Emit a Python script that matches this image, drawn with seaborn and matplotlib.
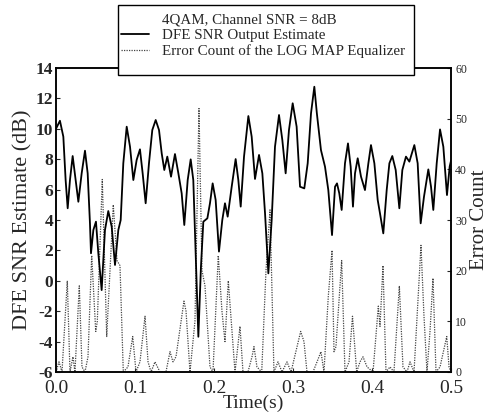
import numpy as np
import pandas as pd
import seaborn as sns
import matplotlib.pyplot as plt
from matplotlib.lines import Line2D
from matplotlib.patches import Rectangle

# DFE SNR output estimate (dB)
snr_time = [0.000, 0.005, 0.0093, 0.0122, 0.0148, 0.0177, 0.0211, 0.0249, 0.0283, 0.0325,
            0.0367, 0.0401, 0.043, 0.0443, 0.0473, 0.0506, 0.0536, 0.0578, 0.062, 0.0662,
            0.0705, 0.0747, 0.0789, 0.0819, 0.0852, 0.0895, 0.0937, 0.0979, 0.1021, 0.1063,
            0.1097, 0.1135, 0.1177, 0.1219, 0.1262, 0.1304, 0.1338, 0.1371, 0.1409, 0.1456,
            0.1506, 0.1549, 0.1591, 0.1624, 0.1667, 0.1705, 0.1738, 0.1768, 0.1802, 0.1835,
            0.1865, 0.1916, 0.1949, 0.1983, 0.2021, 0.2063, 0.2105, 0.2139, 0.2173, 0.2224,
            0.2274, 0.2308, 0.2338, 0.238, 0.2435, 0.2477, 0.2519, 0.257, 0.2612, 0.2646,
            0.2688, 0.273, 0.2772, 0.2823, 0.2865, 0.2907, 0.2949, 0.2996, 0.3046, 0.3089,
            0.3143, 0.3186, 0.3228, 0.327, 0.3302, 0.3354, 0.3405, 0.3447, 0.3494, 0.3532,
            0.3557, 0.3586, 0.3616, 0.3658, 0.3696, 0.373, 0.3759, 0.3785, 0.3819, 0.3861,
            0.3911, 0.3954, 0.3987, 0.403, 0.4072, 0.4101, 0.4143, 0.4186, 0.422, 0.4257,
            0.430, 0.4346, 0.4384, 0.443, 0.4473, 0.4536, 0.4578, 0.4616, 0.4658, 0.4713,
            0.4747, 0.4776, 0.4819, 0.4861, 0.4903, 0.4949, 0.4983, 0.500]
snr_db = [10.0, 10.53, 9.48, 6.63, 4.77, 6.63, 8.21, 6.63, 5.2, 7.07,
          8.56, 7.07, 3.78, 1.81, 3.34, 3.89, 1.81, -0.61, 3.34, 4.59,
          3.56, 1.04, 3.34, 4.0, 7.73, 10.14, 8.82, 6.63, 7.95, 8.65,
          7.07, 5.1, 7.73, 9.92, 10.58, 9.92, 8.39, 7.29, 8.17, 6.85,
          8.34, 7.07, 5.75, 3.67, 6.63, 7.99, 6.63, 1.81, -3.68, 0.93,
          3.89, 4.11, 5.1, 6.41, 5.32, 1.92, 4.0, 5.1, 4.22, 6.19,
          8.01, 6.63, 4.88, 8.17, 10.84, 9.48, 6.7, 8.28, 7.07, 4.44,
          0.49, 4.0, 8.82, 10.91, 9.26, 7.07, 9.92, 11.68, 10.14, 6.19,
          6.08, 7.73, 11.02, 12.77, 11.02, 8.6, 7.51, 5.97, 3.01, 6.19,
          6.41, 5.75, 4.66, 7.73, 9.04, 7.51, 4.88, 7.07, 8.06, 6.85,
          5.97, 7.73, 8.93, 7.73, 5.32, 4.44, 3.12, 5.97, 7.73, 8.21,
          7.29, 4.77, 7.29, 8.17, 7.84, 8.93, 7.73, 3.78, 5.53, 7.33,
          6.19, 4.66, 7.73, 9.96, 8.82, 5.64, 7.51, 7.9]

# error count of the LOG MAP equalizer
err_time = [0.000, 0.0038, 0.0076, 0.0143, 0.0177, 0.0215, 0.024, 0.0295, 0.0329, 0.0367,
            0.0405, 0.0452, 0.0503, 0.0523, 0.0586, 0.0642, 0.0725, 0.0772, 0.081, 0.0852,
            0.0911, 0.0971, 0.1013, 0.1063, 0.1127, 0.1165, 0.1203, 0.1253, 0.1316, 0.1392,
            0.1443, 0.1481, 0.1519, 0.162, 0.1646, 0.1696, 0.1759, 0.181, 0.1848, 0.1886,
            0.1949, 0.1987, 0.2054, 0.2101, 0.2139, 0.2181, 0.2228, 0.2266, 0.2329, 0.2367,
            0.243, 0.2481, 0.2506, 0.2544, 0.2604, 0.2658, 0.2709, 0.2759, 0.281, 0.2861,
            0.2924, 0.2975, 0.3097, 0.3139, 0.3177, 0.3253, 0.3304, 0.3354, 0.3392, 0.3447,
            0.3494, 0.3519, 0.3544, 0.3616, 0.3658, 0.3709, 0.3753, 0.3806, 0.3848, 0.3886,
            0.3937, 0.4013, 0.408, 0.4101, 0.4139, 0.4177, 0.4228, 0.4278, 0.4346, 0.4392,
            0.4443, 0.4481, 0.4532, 0.462, 0.4658, 0.4696, 0.4734, 0.4772, 0.481, 0.4861,
            0.4946, 0.4975, 0.500]
err_count = [0, 2, 0, 18, 0, 3, 0, 17, 1, 0,
             3, 23, 8, 10, 38, 7, 33, 22, 21, 0,
             1, 7, 0, 2, 11, 2, 0, 2, 0, 0,
             4, 2, 3, 14, 12, 0, 10, 52, 20, 17,
             1, 0, 23, 12, 6, 18, 8, 0, 9, 0,
             0, 3, 5, 1, 0, 20, 32, 0, 2, 0,
             2, 0, 8, 6, 0, 0, 2, 4, 0, 15,
             24, 4, 5, 22, 0, 2, 11, 0, 2, 3,
             1, 0, 13, 9, 21, 0, 1, 0, 17, 1,
             0, 2, 0, 25, 11, 0, 8, 18.5, 0, 1,
             7, 1, 0]

legend_labels = ["4QAM, Channel SNR = 8dB", "DFE SNR Output Estimate",
                 "Error Count of the LOG MAP Equalizer"]

snr_df = pd.DataFrame({"time": snr_time, "snr": snr_db})
err_df = pd.DataFrame({"time": err_time, "errors": err_count})

sns.set_style("ticks")
plt.rcParams['font.family'] = ['Liberation Serif', 'DejaVu Serif']

fig = plt.figure(figsize=(4.89, 4.16), dpi=100)
ax = fig.add_axes([0.1145, 0.1058, 0.8078, 0.7307])
ax2 = ax.twinx()

dot_style = (0, (1, 1))
sns.lineplot(data=err_df, x="time", y="errors", ax=ax2, color="#444444",
             linewidth=0.9, linestyle=dot_style, estimator=None, sort=False)
sns.lineplot(data=snr_df, x="time", y="snr", ax=ax, color="black",
             linewidth=1.3, estimator=None, sort=False)

# solid curve above the dotted one
ax.set_zorder(ax2.get_zorder() + 1)
ax.patch.set_visible(False)

ax.set_xlim(0, 0.5)
ax.set_ylim(-6, 14)
ax2.set_ylim(0, 60)
xt = np.arange(0, 0.51, 0.1)
ax.set_xticks(xt)
ax.set_xticklabels([f"{v:.1f}" for v in xt], fontsize=14)
ax.set_yticks(range(-6, 15, 2))
ax.set_yticklabels([str(v) for v in range(-6, 15, 2)], fontsize=12.5, fontweight="bold")
ax2.set_yticks(range(0, 61, 10))
ax2.set_yticklabels([str(v) for v in range(0, 61, 10)], fontsize=8.5)
ax.tick_params(axis="y", direction="in", length=3, width=0.8, pad=2)
ax.tick_params(axis="x", direction="in", length=3, width=0.8, pad=6)
ax2.tick_params(direction="in", length=3, width=0.8, pad=3)

ax.set_xlabel("Time(s)", fontsize=14, labelpad=-2)
ax.set_ylabel("DFE SNR Estimate (dB)", fontsize=16, labelpad=2)
ax2.set_ylabel("Error Count", fontsize=15, labelpad=2)

for a in (ax, ax2):
    for s in a.spines.values():
        s.set_linewidth(1.1)
        s.set_color("black")

# legend box drawn by hand so it can sit over the top spine
fig.add_artist(Rectangle((118 / 489, 1 - 75 / 416), 296 / 489, 70 / 416,
                         transform=fig.transFigure, facecolor="white",
                         edgecolor="black", linewidth=1.0, zorder=5))
handles = [Line2D([], [], color="none"),
           Line2D([], [], color="black", linewidth=1.3),
           Line2D([], [], color="#444444", linewidth=0.9, linestyle=dot_style)]
leg = fig.legend(handles, legend_labels, loc="upper left",
                 bbox_to_anchor=(121 / 489, 1 - 13 / 416),
                 fontsize=10.8, frameon=False, handlelength=1.85,
                 handletextpad=0.9, labelspacing=0.15, borderpad=0, borderaxespad=0)
leg.set_zorder(10)

fig.savefig("out.png", dpi=100)
